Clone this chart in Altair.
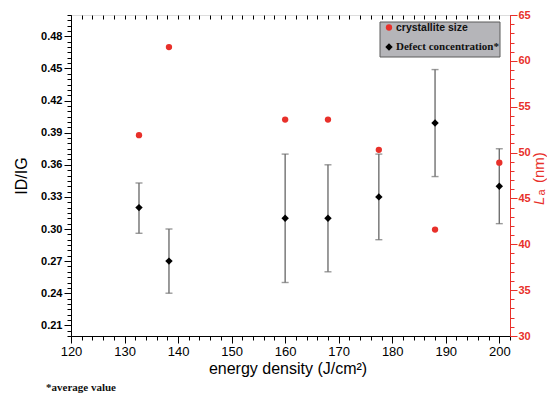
import altair as alt
import pandas as pd

# ---- data ----
energy = [132.7, 138.3, 160.0, 168.0, 177.5, 188.0, 200.0]
idig = [0.320, 0.270, 0.310, 0.310, 0.330, 0.399, 0.340]
idig_low = [0.296, 0.240, 0.250, 0.260, 0.290, 0.349, 0.305]
idig_high = [0.343, 0.300, 0.370, 0.360, 0.370, 0.449, 0.375]
la_nm = [51.9, 61.5, 53.6, 53.6, 50.3, 41.6, 48.9]

legend_labels = ["crystallite size", "Defect concentration*"]
footnote = ["*average value"]
x_title = "energy density (J/cm\u00b2)"
y_title = "ID/IG"
y2_title_parts = ["L", "a", "(nm)"]

RED = "#e8302a"
W, H = 439, 321

df = pd.DataFrame({"energy": energy, "idig": idig, "low": idig_low,
                   "high": idig_high, "la": la_nm})
leg_df = pd.DataFrame({"label": legend_labels, "idx": [0, 1]})

x_vals = [120 + 2 * i for i in range(42)]
y_vals = [round(0.2 + 0.005 * i, 3) for i in range(61)]
y2_vals = list(range(30, 66))

x_scale = alt.Scale(domain=[120, 202], nice=False, zero=False)
y_scale = alt.Scale(domain=[0.20, 0.50], nice=False, zero=False)
y2_scale = alt.Scale(domain=[30, 65], nice=False, zero=False)

bottom_axis = alt.Axis(
    orient="bottom", values=x_vals, grid=False,
    labelExpr="datum.value % 10 == 0 ? datum.label : ''",
    labelOverlap=False, labelFlush=False,
    tickSize={"condition": {"test": "datum.value % 10 == 0", "value": 7}, "value": 4},
    tickColor="black", domainColor="black", labelColor="black",
    labelFont="Liberation Sans", labelFontSize=13, labelPadding=2,
    title=x_title, titleFont="Liberation Sans", titleFontSize=16,
    titleFontWeight="normal", titleColor="black",
    titleX=W / 2 - 3, titleY=32, titleAlign="center", titleBaseline="middle",
)
top_axis = alt.Axis(
    orient="top", values=x_vals, grid=False, labels=False, domain=False,
    tickSize=4, offset=-4, tickColor="black", title=None,
)
left_axis = alt.Axis(
    orient="left", values=y_vals, grid=False,
    labelExpr="(round(datum.value*1000) % 30 == 0 && datum.value > 0.205) ? format(datum.value, '.2f') : ''",
    labelOverlap=False, labelFlush=False,
    tickSize={"condition": {"test": "round(datum.value*1000) % 30 == 0", "value": 7}, "value": 4},
    tickColor="black", domainColor="black", labelColor="black",
    labelFont="Liberation Sans", labelFontSize=11, labelFontWeight="bold", labelPadding=2,
    title=y_title, titleFont="Liberation Sans", titleFontSize=16,
    titleFontWeight="normal", titleColor="black", titleAngle=270,
    titleX=-50, titleY=H / 2, titleAlign="center", titleBaseline="middle",
)
right_axis = alt.Axis(
    orient="right", values=y2_vals, grid=False,
    labelExpr="datum.value % 5 == 0 ? datum.label : ''",
    labelOverlap=False, labelFlush=False,
    tickSize={"condition": {"test": "datum.value % 5 == 0", "value": 7}, "value": 4},
    tickColor=RED, domainColor=RED, labelColor=RED,
    labelFont="Liberation Sans", labelFontSize=11, labelFontWeight="bold", labelPadding=1,
    title=None,
)

X = alt.X("energy:Q", scale=x_scale, axis=bottom_axis)
base = alt.Chart(df)
bars = base.mark_rule(color="#707070", strokeWidth=1.4).encode(
    x=X,
    y=alt.Y("low:Q", scale=y_scale, axis=left_axis),
    y2="high:Q",
)
cap_lo = base.mark_tick(color="#707070", orient="horizontal", size=7, thickness=1.4).encode(
    x=X, y=alt.Y("low:Q", scale=y_scale, axis=left_axis))
cap_hi = base.mark_tick(color="#707070", orient="horizontal", size=7, thickness=1.4).encode(
    x=X, y=alt.Y("high:Q", scale=y_scale, axis=left_axis))
diamonds = base.mark_point(shape="diamond", filled=True, color="black", size=55, opacity=1).encode(
    x=X, y=alt.Y("idig:Q", scale=y_scale, axis=left_axis))
black = alt.layer(bars, cap_lo, cap_hi, diamonds)

red = base.mark_circle(color=RED, size=40, opacity=1).encode(
    x=alt.X("energy:Q", scale=x_scale, axis=top_axis),
    y=alt.Y("la:Q", scale=y2_scale, axis=right_axis),
)

# legend box
leg = alt.Chart(leg_df)
leg_box = leg.transform_filter("datum.idx == 0").mark_rect(
    fill="#b5b5b9", stroke="#5a5a5a", strokeWidth=1).encode(
    x=alt.value(309), x2=alt.value(429), y=alt.value(7), y2=alt.value(42))
leg_dot = leg.transform_filter("datum.idx == 0").mark_circle(color=RED, size=40, opacity=1).encode(
    x=alt.value(318), y=alt.value(12.5))
leg_dia = leg.transform_filter("datum.idx == 1").mark_point(
    shape="diamond", filled=True, color="black", size=55, opacity=1).encode(
    x=alt.value(318), y=alt.value(32))
leg_t1 = leg.transform_filter("datum.idx == 0").mark_text(
    align="left", baseline="middle", font="Liberation Sans", fontWeight="bold",
    fontSize=10.5, color="#111").encode(
    x=alt.value(325), y=alt.value(12.5), text="label:N")
leg_t2 = leg.transform_filter("datum.idx == 1").mark_text(
    align="left", baseline="middle", font="Liberation Serif", fontWeight="bold",
    fontSize=11, color="#111").encode(
    x=alt.value(325), y=alt.value(32), text="label:N")

# right axis title (italic L with subscript a)
t_df = pd.DataFrame({"t": y2_title_parts, "i": [0, 1, 2]})
tt = alt.Chart(t_df)
t_L = tt.transform_filter("datum.i == 0").mark_text(
    angle=270, align="left", baseline="middle", font="Liberation Sans",
    fontStyle="italic", fontSize=15, color=RED).encode(
    x=alt.value(468), y=alt.value(190), text="t:N")
t_a = tt.transform_filter("datum.i == 1").mark_text(
    angle=270, align="left", baseline="middle", font="Liberation Sans",
    fontSize=11, color=RED).encode(
    x=alt.value(471), y=alt.value(180.5), text="t:N")
t_nm = tt.transform_filter("datum.i == 2").mark_text(
    angle=270, align="left", baseline="middle", font="Liberation Sans",
    fontSize=15, color=RED).encode(
    x=alt.value(468), y=alt.value(168), text="t:N")

foot = alt.Chart(pd.DataFrame({"f": footnote})).mark_text(
    align="left", baseline="alphabetic", font="Liberation Serif", fontWeight="bold",
    fontSize=11, color="#111").encode(
    x=alt.value(46 - 71), y=alt.value(376), text="f:N")

chart = alt.layer(
    black, red, leg_box, leg_dot, leg_dia, leg_t1, leg_t2, t_L, t_a, t_nm, foot
).resolve_scale(y="independent").resolve_axis(x="independent", y="independent").properties(
    width=W, height=H,
    autosize=alt.AutoSizeParams(type="none"),
    padding={"left": 63, "top": 7, "right": 37, "bottom": 57},
).configure_view(stroke="black", strokeWidth=1).configure(background="white")

chart.save("out.html", embed_options={"renderer": "svg", "actions": False})
